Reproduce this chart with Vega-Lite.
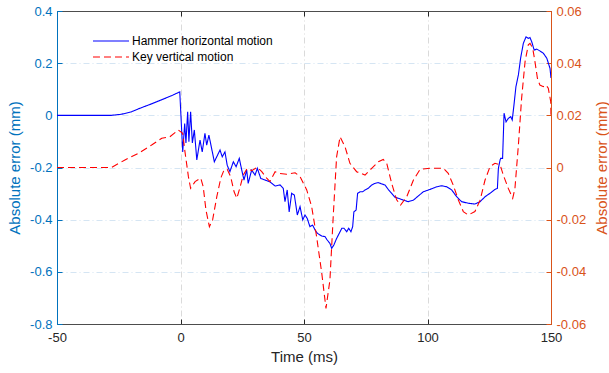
{
  "$schema": "https://vega.github.io/schema/vega-lite/v6.json",
  "width": 494,
  "height": 313,
  "autosize": "none",
  "padding": {"left": 57, "top": 11, "right": 58, "bottom": 49},
  "background": "white",
  "config": {
    "font": "Liberation Sans",
    "view": {"stroke": null},
    "axis": {"labelFontWeight": "normal", "titleFontWeight": "normal", "labelFontSize": 13, "titleFontSize": 15, "domainWidth": 1, "tickWidth": 1, "labelFlush": false}
  },
  "datasets": {
    "hammer": [
      {"t": -50, "v": 0}, {"t": -28, "v": 0}, {"t": -24, "v": 0.004}, {"t": -20, "v": 0.013}, {"t": -17, "v": 0.025}, {"t": -12, "v": 0.043}, {"t": -6, "v": 0.066}, {"t": -3, "v": 0.078}, {"t": -0.3, "v": 0.09},
      {"t": 0.9, "v": -0.14}, {"t": 1.7, "v": -0.031}, {"t": 2.2, "v": -0.106}, {"t": 2.9, "v": 0.014}, {"t": 3.4, "v": -0.101}, {"t": 4.1, "v": 0.014}, {"t": 4.8, "v": -0.106}, {"t": 5.6, "v": -0.056}, {"t": 6.6, "v": -0.171}, {"t": 7.9, "v": -0.095}, {"t": 8.8, "v": -0.14}, {"t": 9.9, "v": -0.069}, {"t": 10.6, "v": -0.114}, {"t": 11.5, "v": -0.076}, {"t": 12.6, "v": -0.127}, {"t": 13.7, "v": -0.178}, {"t": 16.0, "v": -0.133}, {"t": 16.9, "v": -0.159}, {"t": 18.0, "v": -0.14}, {"t": 18.9, "v": -0.191}, {"t": 20.0, "v": -0.216}, {"t": 21.4, "v": -0.178}, {"t": 22.5, "v": -0.197}, {"t": 23.8, "v": -0.165}, {"t": 24.8, "v": -0.21}, {"t": 25.7, "v": -0.248}, {"t": 26.8, "v": -0.21}, {"t": 27.4, "v": -0.261}, {"t": 28.8, "v": -0.21}, {"t": 30.2, "v": -0.229}, {"t": 31.1, "v": -0.203}, {"t": 32.5, "v": -0.242}, {"t": 34.2, "v": -0.248}, {"t": 36.2, "v": -0.255}, {"t": 38.3, "v": -0.271}, {"t": 40.3, "v": -0.267}, {"t": 41.6, "v": -0.28}, {"t": 42.3, "v": -0.331}, {"t": 43.2, "v": -0.286}, {"t": 44.0, "v": -0.37}, {"t": 45.0, "v": -0.299}, {"t": 46.1, "v": -0.306}, {"t": 47.3, "v": -0.382}, {"t": 48.4, "v": -0.35}, {"t": 49.5, "v": -0.401}, {"t": 50.4, "v": -0.382}, {"t": 51.3, "v": -0.395}, {"t": 52.4, "v": -0.427}, {"t": 53.5, "v": -0.421}, {"t": 54.5, "v": -0.44}, {"t": 55.4, "v": -0.452}, {"t": 57.2, "v": -0.463}, {"t": 58.5, "v": -0.465}, {"t": 59.4, "v": -0.478}, {"t": 60.5, "v": -0.491}, {"t": 61.2, "v": -0.51}, {"t": 62.1, "v": -0.497}, {"t": 63.2, "v": -0.472}, {"t": 64.3, "v": -0.452}, {"t": 65.3, "v": -0.433}, {"t": 66.2, "v": -0.433}, {"t": 67.3, "v": -0.446}, {"t": 68.1, "v": -0.433}, {"t": 69.0, "v": -0.446}, {"t": 69.7, "v": -0.427}, {"t": 70.2, "v": -0.37}, {"t": 71.1, "v": -0.363}, {"t": 71.7, "v": -0.299}, {"t": 72.7, "v": -0.293}, {"t": 73.8, "v": -0.293}, {"t": 74.7, "v": -0.286}, {"t": 76.0, "v": -0.28}, {"t": 77.4, "v": -0.267}, {"t": 78.7, "v": -0.261}, {"t": 80.1, "v": -0.258}, {"t": 81.5, "v": -0.263}, {"t": 82.8, "v": -0.267}, {"t": 84.1, "v": -0.284}, {"t": 85.5, "v": -0.299}, {"t": 86.8, "v": -0.314}, {"t": 88.2, "v": -0.318}, {"t": 90.2, "v": -0.325}, {"t": 92.2, "v": -0.331}, {"t": 94.3, "v": -0.325}, {"t": 96.3, "v": -0.309}, {"t": 98.3, "v": -0.293}, {"t": 101.0, "v": -0.284}, {"t": 103.7, "v": -0.274}, {"t": 105.7, "v": -0.27}, {"t": 107.8, "v": -0.274}, {"t": 109.8, "v": -0.286}, {"t": 111.8, "v": -0.312}, {"t": 113.8, "v": -0.331}, {"t": 116.5, "v": -0.337}, {"t": 119.2, "v": -0.34}, {"t": 121.3, "v": -0.331}, {"t": 123.3, "v": -0.312}, {"t": 125.3, "v": -0.299}, {"t": 127.3, "v": -0.284}, {"t": 128.3, "v": -0.28}, {"t": 128.7, "v": -0.203}, {"t": 129.4, "v": -0.171}, {"t": 129.6, "v": -0.165}, {"t": 130.4, "v": -0.165}, {"t": 131.0, "v": 0.008}, {"t": 131.8, "v": -0.025}, {"t": 132.7, "v": -0.012}, {"t": 133.7, "v": -0.005}, {"t": 134.3, "v": -0.018}, {"t": 135.0, "v": 0.039}, {"t": 135.8, "v": 0.11}, {"t": 136.8, "v": 0.155}, {"t": 137.7, "v": 0.219}, {"t": 138.8, "v": 0.276}, {"t": 139.9, "v": 0.301}, {"t": 140.8, "v": 0.295}, {"t": 141.5, "v": 0.298}, {"t": 142.2, "v": 0.282}, {"t": 143.2, "v": 0.25}, {"t": 144.2, "v": 0.254}, {"t": 145.5, "v": 0.247}, {"t": 146.9, "v": 0.238}, {"t": 148.3, "v": 0.219}, {"t": 149.6, "v": 0.18}, {"t": 150, "v": 0.143}
    ],
    "key": [
      {"t": -50, "v": 0}, {"t": -27.9, "v": 0}, {"t": -22.5, "v": 0.0029}, {"t": -17.1, "v": 0.0054}, {"t": -11.7, "v": 0.0086}, {"t": -7.6, "v": 0.0112}, {"t": -4.3, "v": 0.0118}, {"t": -0.9, "v": 0.0144}, {"t": 0.9, "v": 0.0131}, {"t": 1.8, "v": 0.0061}, {"t": 3.2, "v": -0.0035}, {"t": 4.1, "v": -0.008}, {"t": 5.9, "v": -0.0054}, {"t": 8.2, "v": -0.0041}, {"t": 9.2, "v": -0.0074}, {"t": 10.3, "v": -0.0163}, {"t": 11.7, "v": -0.0227}, {"t": 13.0, "v": -0.0201}, {"t": 14.7, "v": -0.0112}, {"t": 16.3, "v": -0.0041}, {"t": 17.6, "v": -0.001}, {"t": 18.9, "v": -0.0007}, {"t": 20.3, "v": -0.0035}, {"t": 21.7, "v": -0.0093}, {"t": 22.8, "v": -0.0118}, {"t": 23.8, "v": -0.0086}, {"t": 25.4, "v": -0.0029}, {"t": 27.0, "v": -0.0003}, {"t": 28.8, "v": -0.0012}, {"t": 31.1, "v": 0.0001}, {"t": 32.9, "v": -0.0016}, {"t": 34.9, "v": -0.0041}, {"t": 36.2, "v": -0.0054}, {"t": 38.3, "v": -0.0016}, {"t": 39.6, "v": -0.0022}, {"t": 43.0, "v": -0.0026}, {"t": 46.4, "v": -0.002}, {"t": 48.4, "v": -0.0035}, {"t": 51.1, "v": -0.0086}, {"t": 53.1, "v": -0.015}, {"t": 55.1, "v": -0.0265}, {"t": 57.2, "v": -0.0406}, {"t": 58.9, "v": -0.054}, {"t": 60.5, "v": -0.0431}, {"t": 61.9, "v": -0.0176}, {"t": 63.2, "v": 0.0041}, {"t": 64.6, "v": 0.0118}, {"t": 66.6, "v": 0.008}, {"t": 68.6, "v": 0.0016}, {"t": 71.3, "v": -0.0016}, {"t": 74.7, "v": -0.0029}, {"t": 77.4, "v": -0.0003}, {"t": 80.1, "v": 0.0022}, {"t": 82.1, "v": 0.0031}, {"t": 83.5, "v": 0.0016}, {"t": 85.5, "v": -0.0061}, {"t": 87.5, "v": -0.0124}, {"t": 89.1, "v": -0.0144}, {"t": 91.6, "v": -0.0112}, {"t": 94.3, "v": -0.0048}, {"t": 97.0, "v": -0.0007}, {"t": 101.0, "v": -0.0003}, {"t": 106.4, "v": -0.0003}, {"t": 108.4, "v": -0.0022}, {"t": 110.4, "v": -0.0067}, {"t": 112.5, "v": -0.0125}, {"t": 114.5, "v": -0.0169}, {"t": 116.5, "v": -0.0182}, {"t": 119.2, "v": -0.0169}, {"t": 121.3, "v": -0.0125}, {"t": 123.3, "v": -0.0048}, {"t": 125.3, "v": 0.0003}, {"t": 127.3, "v": 0.0016}, {"t": 129.4, "v": 0.001}, {"t": 130.7, "v": -0.0029}, {"t": 132.7, "v": -0.008}, {"t": 134.5, "v": -0.0118}, {"t": 135.4, "v": -0.008}, {"t": 136.8, "v": 0.0086}, {"t": 138.1, "v": 0.0265}, {"t": 139.5, "v": 0.0406}, {"t": 140.8, "v": 0.047}, {"t": 141.5, "v": 0.0476}, {"t": 142.6, "v": 0.0457}, {"t": 143.5, "v": 0.0406}, {"t": 144.5, "v": 0.0342}, {"t": 145.5, "v": 0.0316}, {"t": 146.9, "v": 0.031}, {"t": 148.0, "v": 0.0316}, {"t": 148.9, "v": 0.0304}, {"t": 149.9, "v": 0.0252}, {"t": 150, "v": 0.019}
    ]
  },
  "layer": [
    {
      "data": {"name": "hammer"},
      "mark": {"type": "line", "strokeWidth": 1.1, "clip": true},
      "encoding": {
        "x": {"field": "t", "type": "quantitative", "scale": {"domain": [-50, 150], "nice": false},
          "axis": {"orient": "bottom", "values": [-50, 0, 50, 100, 150], "labelExpr": "'' + datum.value", "title": "Time (ms)",
            "domainColor": "#4d4d4d", "tickColor": "#262626", "labelColor": "#262626", "titleColor": "#262626", "tickSize": -5, "labelPadding": 12,
            "grid": true, "gridColor": "#dadada", "gridDash": [6, 3, 1, 3], "titleX": 247, "titleY": 32, "titleBaseline": "middle"}},
        "y": {"field": "v", "type": "quantitative", "scale": {"domain": [-0.8, 0.4], "nice": false, "zero": false},
          "axis": {"orient": "left", "values": [-0.8, -0.6, -0.4, -0.2, 0, 0.2, 0.4], "labelExpr": "'' + round(datum.value * 10) / 10", "title": "Absolute error (mm)",
            "domainColor": "#0072BD", "tickColor": "#0072BD", "labelColor": "#0072BD", "titleColor": "#0072BD", "tickSize": -5, "labelPadding": 10,
            "grid": true, "gridColor": "#d5e5f3", "gridDash": [6, 3, 1, 3], "titleX": -43, "titleY": 156.5, "titleAngle": 270, "titleBaseline": "middle", "titleAlign": "center"}},
        "color": {"datum": "Hammer horizontal motion", "type": "nominal", "scale": {"domain": ["Hammer horizontal motion", "Key vertical motion"], "range": ["#0000ff", "#ff0000"]},
          "legend": {"title": null, "orient": "none", "legendX": 35, "legendY": 24, "symbolType": "stroke", "symbolSize": 1300, "symbolStrokeWidth": 1.1, "clipHeight": 12, "rowPadding": 4, "labelFontSize": 12, "labelColor": "#000000", "labelOffset": 2, "padding": 0}},
        "strokeDash": {"datum": "Hammer horizontal motion", "type": "nominal", "scale": {"domain": ["Hammer horizontal motion", "Key vertical motion"], "range": [[1, 0], [7, 4]]}}
      }
    },
    {
      "data": {"name": "key"},
      "mark": {"type": "line", "strokeWidth": 1.1, "clip": true},
      "encoding": {
        "x": {"field": "t", "type": "quantitative", "scale": {"domain": [-50, 150], "nice": false},
          "axis": {"orient": "top", "values": [-50, 0, 50, 100, 150], "labels": false, "title": null, "domainColor": "#4d4d4d", "tickColor": "#262626", "tickSize": -5, "grid": false}},
        "y": {"field": "v", "type": "quantitative", "scale": {"domain": [-0.06, 0.06], "nice": false, "zero": false},
          "axis": {"orient": "right", "values": [-0.06, -0.04, -0.02, 0, 0.02, 0.04, 0.06], "labelExpr": "'' + round(datum.value * 100) / 100", "title": "Absolute error (mm)",
            "domainColor": "#D95319", "tickColor": "#D95319", "labelColor": "#D95319", "titleColor": "#D95319", "tickSize": -5, "labelPadding": 10,
            "grid": false, "titleX": 50, "titleY": 156.5, "titleAngle": 270, "titleBaseline": "middle", "titleAlign": "center"}},
        "color": {"datum": "Key vertical motion", "type": "nominal"},
        "strokeDash": {"datum": "Key vertical motion", "type": "nominal"}
      }
    }
  ],
  "resolve": {"scale": {"y": "independent"}, "axis": {"x": "independent"}}
}
